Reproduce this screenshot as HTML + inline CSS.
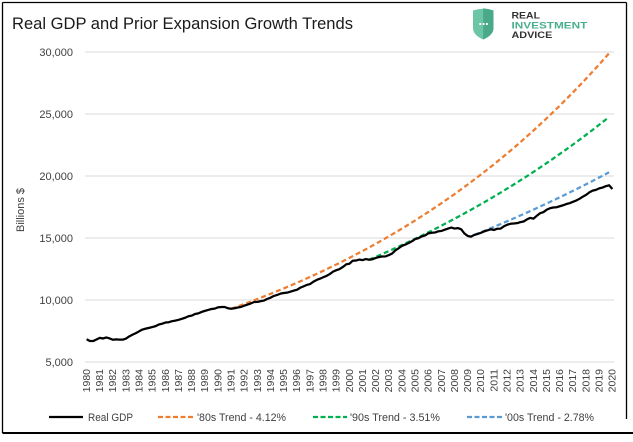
<!DOCTYPE html>
<html>
<head>
<meta charset="utf-8">
<style>
  html,body{margin:0;padding:0;background:#fff;}
  svg{display:block;}
  text{font-family:"Liberation Sans",Arial,sans-serif;}
</style>
</head>
<body>
<svg width="633" height="442" viewBox="0 0 633 442" xmlns="http://www.w3.org/2000/svg">
  <rect x="0" y="0" width="633" height="442" fill="#fff"/>

  <!-- border -->
  <line x1="2.5" y1="2.5" x2="626.5" y2="2.5" stroke="#000" stroke-width="1.3"/>
  <line x1="2.5" y1="2.5" x2="2.5" y2="433" stroke="#000" stroke-width="1.3"/>
  <line x1="626.5" y1="2.5" x2="626.5" y2="419" stroke="#000" stroke-width="1.3"/>
  <line x1="2.5" y1="433" x2="633" y2="433" stroke="#000" stroke-width="2"/>

  <!-- title -->
  <text x="12" y="29" font-size="16.5" fill="#1a1a1a" textLength="341" lengthAdjust="spacingAndGlyphs">Real GDP and Prior Expansion Growth Trends</text>

  <!-- logo -->
  <path d="M473,10.5 Q483,7 493.5,10.5 L493.5,28 Q493.5,35 483.2,39.5 Q473,35 473,28 Z" fill="#6cc5a5"/>
  <path d="M483.2,8.2 Q488.5,8.7 493.5,10.5 L493.5,28 Q493.5,35 483.2,39.5 Z" fill="#4aa98a"/>
  <circle cx="480.3" cy="24" r="1.1" fill="#fff"/>
  <circle cx="483.6" cy="24" r="1.1" fill="#fff"/>
  <circle cx="486.9" cy="24" r="1.1" fill="#fff"/>
  <g font-weight="bold" font-size="9.4">
    <text x="511.5" y="18.4" fill="#333" textLength="28.5" lengthAdjust="spacingAndGlyphs">REAL</text>
    <text x="511.5" y="28.3" fill="#4aae8e" textLength="75.8" lengthAdjust="spacingAndGlyphs">INVESTMENT</text>
    <text x="511.5" y="37.8" fill="#333" textLength="40.8" lengthAdjust="spacingAndGlyphs">ADVICE</text>
  </g>

  <!-- gridlines -->
  <g stroke="#d9d9d9" stroke-width="1">
    <line x1="85" y1="52" x2="614" y2="52"/>
    <line x1="85" y1="114" x2="614" y2="114"/>
    <line x1="85" y1="176" x2="614" y2="176"/>
    <line x1="85" y1="238" x2="614" y2="238"/>
    <line x1="85" y1="300" x2="614" y2="300"/>
    <line x1="85" y1="362" x2="614" y2="362"/>
  </g>

  <!-- y tick labels -->
  <g font-size="11" fill="#404040" text-anchor="end">
    <text x="73" y="56">30,000</text>
    <text x="73" y="118">25,000</text>
    <text x="73" y="180">20,000</text>
    <text x="73" y="242">15,000</text>
    <text x="73" y="304">10,000</text>
    <text x="73" y="366">5,000</text>
  </g>
  <text transform="translate(24,210) rotate(-90)" font-size="11" fill="#404040" text-anchor="middle">Billions $</text>

  <!-- x tick labels -->
  <g font-size="10.5" fill="#404040" text-anchor="end">
    <text transform="translate(89.9,369) rotate(-90)">1980</text>
    <text transform="translate(103.0,369) rotate(-90)">1981</text>
    <text transform="translate(116.2,369) rotate(-90)">1982</text>
    <text transform="translate(129.3,369) rotate(-90)">1983</text>
    <text transform="translate(142.5,369) rotate(-90)">1984</text>
    <text transform="translate(155.6,369) rotate(-90)">1985</text>
    <text transform="translate(168.8,369) rotate(-90)">1986</text>
    <text transform="translate(181.9,369) rotate(-90)">1987</text>
    <text transform="translate(195.1,369) rotate(-90)">1988</text>
    <text transform="translate(208.2,369) rotate(-90)">1989</text>
    <text transform="translate(221.3,369) rotate(-90)">1990</text>
    <text transform="translate(234.5,369) rotate(-90)">1991</text>
    <text transform="translate(247.6,369) rotate(-90)">1992</text>
    <text transform="translate(260.8,369) rotate(-90)">1993</text>
    <text transform="translate(273.9,369) rotate(-90)">1994</text>
    <text transform="translate(287.1,369) rotate(-90)">1995</text>
    <text transform="translate(300.2,369) rotate(-90)">1996</text>
    <text transform="translate(313.4,369) rotate(-90)">1997</text>
    <text transform="translate(326.5,369) rotate(-90)">1998</text>
    <text transform="translate(339.6,369) rotate(-90)">1999</text>
    <text transform="translate(352.8,369) rotate(-90)">2000</text>
    <text transform="translate(365.9,369) rotate(-90)">2001</text>
    <text transform="translate(379.1,369) rotate(-90)">2002</text>
    <text transform="translate(392.2,369) rotate(-90)">2003</text>
    <text transform="translate(405.4,369) rotate(-90)">2004</text>
    <text transform="translate(418.5,369) rotate(-90)">2005</text>
    <text transform="translate(431.7,369) rotate(-90)">2006</text>
    <text transform="translate(444.8,369) rotate(-90)">2007</text>
    <text transform="translate(457.9,369) rotate(-90)">2008</text>
    <text transform="translate(471.1,369) rotate(-90)">2009</text>
    <text transform="translate(484.2,369) rotate(-90)">2010</text>
    <text transform="translate(497.4,369) rotate(-90)">2011</text>
    <text transform="translate(510.5,369) rotate(-90)">2012</text>
    <text transform="translate(523.7,369) rotate(-90)">2013</text>
    <text transform="translate(536.8,369) rotate(-90)">2014</text>
    <text transform="translate(550.0,369) rotate(-90)">2015</text>
    <text transform="translate(563.1,369) rotate(-90)">2016</text>
    <text transform="translate(576.2,369) rotate(-90)">2017</text>
    <text transform="translate(589.4,369) rotate(-90)">2018</text>
    <text transform="translate(602.5,369) rotate(-90)">2019</text>
    <text transform="translate(615.7,369) rotate(-90)">2020</text>
  </g>

  <!-- trend lines -->
  <polyline fill="none" stroke="#ED7D31" stroke-width="2.25" stroke-dasharray="5,3"
    points="231.18,308.75 244.33,303.98 257.47,299.0 270.62,293.81 283.76,288.41 296.9,282.79 310.05,276.93 323.2,270.83 336.34,264.47 349.48,257.85 362.63,250.97 375.77,243.79 388.92,236.31 402.06,228.53 415.2,220.43 428.35,211.98 441.5,203.18 454.64,194.03 467.78,184.48 480.93,174.55 494.07,164.21 507.22,153.43 520.36,142.21 533.5,130.52 546.65,118.34 559.8,105.67 572.94,92.46 586.08,78.71 599.23,64.39 609.07,53.24"/>
  <polyline fill="none" stroke="#00B050" stroke-width="2.25" stroke-dasharray="5,3"
    points="369.2,259.71 382.34,253.98 395.49,248.06 408.63,241.93 421.78,235.58 434.92,229.01 448.06,222.21 461.21,215.18 474.36,207.9 487.5,200.37 500.64,192.58 513.79,184.51 526.94,176.16 540.08,167.52 553.22,158.58 566.37,149.33 579.52,139.76 592.66,129.85 605.8,119.59 609.07,116.98"/>
  <polyline fill="none" stroke="#5B9BD5" stroke-width="2.25" stroke-dasharray="5,3"
    points="474.35,234.9 487.49,229.54 500.64,224.05 513.78,218.38 526.93,212.57 540.08,206.59 553.22,200.43 566.36,194.1 579.51,187.59 592.66,180.91 605.8,174.03 609.07,172.28"/>

  <!-- Real GDP -->
  <g transform="matrix(3.286,0,0,-0.0124,86.6,424)">
    <polyline fill="none" stroke="#000" stroke-width="2.25" stroke-linejoin="round" vector-effect="non-scaling-stroke"
      points="0,6837 1,6696 2,6689 3,6814 4,6947 5,6896 6,6978 7,6902 8,6795 9,6826 10,6800 11,6803 12,6893 13,7068 14,7205 15,7326 16,7476 17,7618 18,7690 19,7751 20,7820 21,7892 22,8023 23,8088 24,8184 25,8208 26,8290 27,8339 28,8400 29,8485 30,8568 31,8690 32,8738 33,8868 34,8923 35,9035 36,9123 37,9199 38,9274 39,9304 40,9408 41,9434 42,9436 43,9336 44,9294 45,9337 46,9396 47,9440 48,9546 49,9631 50,9727 51,9837 52,9850 53,9909 54,9955 55,10090 56,10190 57,10328 58,10405 59,10514 60,10562 61,10593 62,10674 63,10754 64,10822 65,10987 66,11097 67,11212 68,11284 69,11472 70,11616 71,11715 72,11833 73,11943 74,12092 75,12287 76,12404 77,12499 78,12663 79,12877 80,12925 81,13170 82,13184 83,13262 84,13219 85,13302 86,13249 87,13285 88,13395 89,13467 90,13513 91,13519 92,13624 93,13752 94,14010 95,14183 96,14372 97,14470 98,14597 99,14735 100,14912 101,14989 102,15129 103,15204 104,15374 105,15426 106,15439 107,15535 108,15569 109,15666 110,15761 111,15845 112,15762 113,15800 114,15700 115,15360 116,15160 117,15110 118,15250 119,15330 120,15420 121,15535 122,15617 123,15705 124,15648 125,15749 126,15760 127,15944 128,16069 129,16147 130,16170 131,16196 132,16280 133,16330 134,16500 135,16620 136,16560 137,16790 138,17000 139,17080 140,17280 141,17400 142,17460 143,17480 144,17560 145,17640 146,17740 147,17810 148,17920 149,18020 150,18160 151,18330 152,18480 153,18680 154,18820 155,18880 156,19000 157,19070 158,19180 159,19250 160,18950"/>
  </g>

  <!-- legend -->
  <line x1="49" y1="417" x2="83" y2="417" stroke="#000" stroke-width="2.25"/>
  <text x="88" y="421" font-size="11" fill="#404040" textLength="45" lengthAdjust="spacingAndGlyphs">Real GDP</text>
  <line x1="158" y1="417" x2="193" y2="417" stroke="#ED7D31" stroke-width="2.25" stroke-dasharray="5,2.5"/>
  <text x="197" y="421" font-size="11" fill="#404040" textLength="89" lengthAdjust="spacingAndGlyphs">'80s Trend - 4.12%</text>
  <line x1="313" y1="417" x2="347" y2="417" stroke="#00B050" stroke-width="2.25" stroke-dasharray="5,2.5"/>
  <text x="350" y="421" font-size="11" fill="#404040" textLength="90" lengthAdjust="spacingAndGlyphs">'90s Trend - 3.51%</text>
  <line x1="467" y1="417" x2="502" y2="417" stroke="#5B9BD5" stroke-width="2.25" stroke-dasharray="5,2.5"/>
  <text x="505" y="421" font-size="11" fill="#404040" textLength="89" lengthAdjust="spacingAndGlyphs">'00s Trend - 2.78%</text>
</svg>
</body>
</html>
